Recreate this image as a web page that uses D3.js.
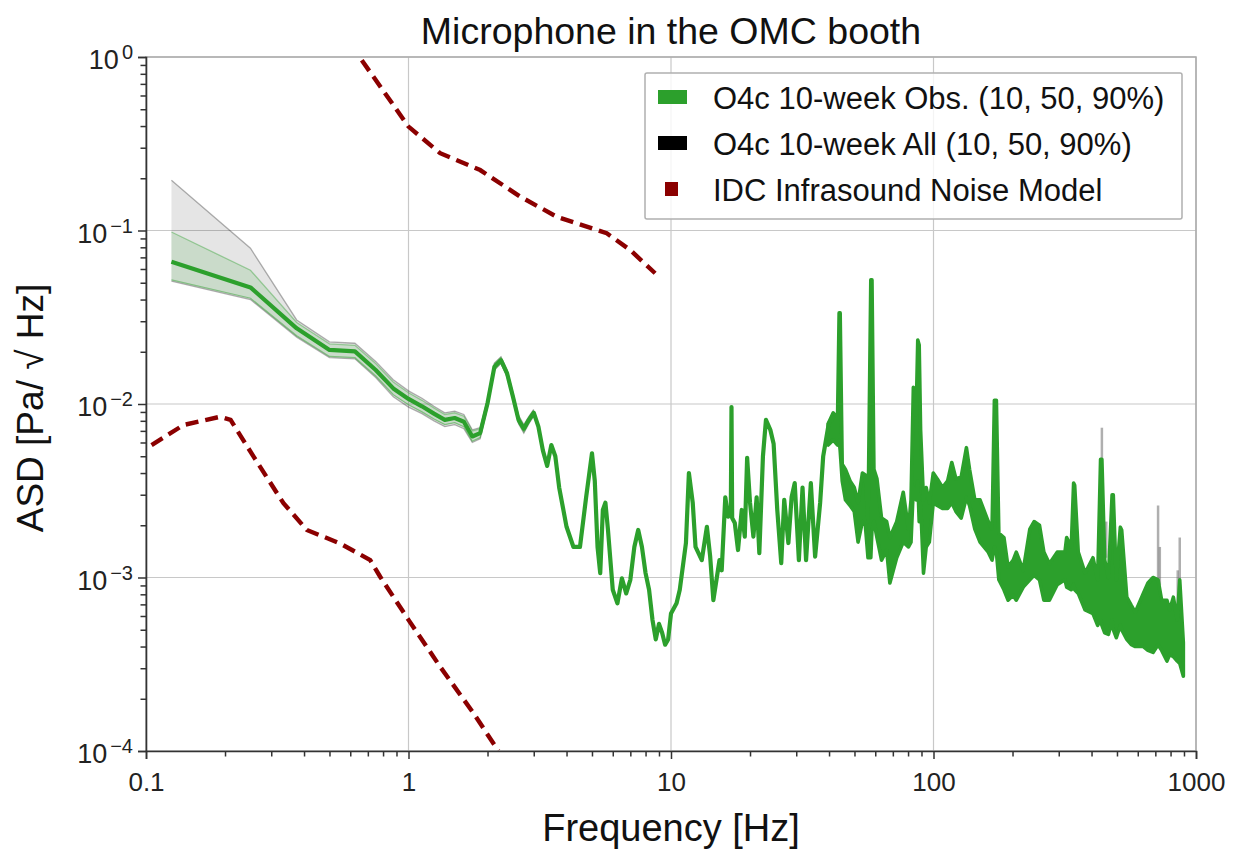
<!DOCTYPE html>
<html>
<head>
<meta charset="utf-8">
<script src="https://cdn.jsdelivr.net/npm/d3@7/dist/d3.min.js"></script>
<style>
  body { margin: 0; background: #fff; }
  svg { display: block; font-family: "Liberation Sans", Arial, Helvetica, sans-serif; }
</style>
</head>
<body>
<svg id="chart" width="1242" height="857"></svg>
<script>
// median ASD of the observing-time data (Hz, Pa/rtHz)
const freq = [0.125, 0.25, 0.375, 0.5, 0.625, 0.75, 0.875, 1.0, 1.125, 1.25, 1.375, 1.5, 1.625, 1.75, 1.875,
  2.0, 2.125, 2.25, 2.375, 2.5, 2.625, 2.75, 2.875, 3.0, 3.125, 3.25, 3.375, 3.5, 3.625, 3.75,
  4.0, 4.25, 4.5, 4.75, 5.0, 5.125, 5.25, 5.375, 5.5, 5.625, 5.75, 6.0, 6.25, 6.5, 6.75, 7.0,
  7.25, 7.5, 7.75, 8.0, 8.25, 8.5, 8.75, 9.0, 9.25, 9.5, 9.75, 10.0, 10.5, 10.8, 11.4, 11.7,
  12.1, 12.4, 13.1, 13.7, 14.1, 14.5, 15.3, 15.6, 16.1, 16.5, 16.9, 17.0, 17.1, 17.5, 18.0,
  18.6, 19.1, 19.5, 20.0, 20.6, 21.2, 21.7, 22.4, 23.0, 23.9, 24.6, 25.4, 26.3, 27.0, 28.0,
  28.8, 29.6, 30.7, 31.7, 32.7, 34.1, 35.4, 37.0, 38.0, 39.9, 41.7];
const obsMedian = [0.066, 0.047, 0.0273, 0.0205, 0.0201, 0.0157, 0.0123, 0.0107, 0.0097, 0.0088, 0.0081, 0.0083, 0.0079, 0.0065, 0.0068,
  0.0101, 0.0164, 0.0179, 0.015, 0.011, 0.0081, 0.0072, 0.0081, 0.0089, 0.0074, 0.0054, 0.0044, 0.0058, 0.005, 0.0033,
  0.00196, 0.0015, 0.0015, 0.0029, 0.0052, 0.0036, 0.0015, 0.00106, 0.00245, 0.0027, 0.0019, 0.00085, 0.00071, 0.00099, 0.00081, 0.00097,
  0.0015, 0.00188, 0.0015, 0.00106, 0.00085, 0.00057, 0.00044, 0.00054, 0.00048, 0.00041, 0.00044, 0.00062, 0.00071, 0.00085, 0.00158, 0.004,
  0.0027, 0.0015, 0.00126, 0.00196, 0.00132, 0.00074, 0.00126, 0.0011, 0.0029, 0.00224, 0.0024, 0.0096, 0.0022, 0.00206, 0.00144,
  0.00245, 0.00172, 0.0049, 0.0027, 0.00172, 0.0029, 0.00138, 0.005, 0.0081, 0.0071, 0.0059, 0.00245, 0.00121, 0.0028, 0.00158,
  0.0029, 0.0035, 0.00126, 0.0033, 0.00126, 0.0035, 0.00132, 0.0027, 0.005, 0.0077, 0.0085];

// 10 / 90 % bands at low frequency
const bandFreq = [0.125, 0.25, 0.375, 0.5, 0.625, 0.75, 0.875, 1.0, 1.125, 1.25, 1.375, 1.5, 1.625, 1.75, 1.875,
  2.0, 2.125, 2.25, 2.375, 2.5, 2.625, 2.75, 2.875, 3.0];
const obsP10 = [0.052, 0.0407, 0.0247, 0.0188, 0.0185, 0.0145, 0.0113, 0.0099, 0.009, 0.0082, 0.0076, 0.0078, 0.0074, 0.0061, 0.0064,
  0.0097, 0.0158, 0.0172, 0.0144, 0.0106, 0.0078, 0.0069, 0.0078, 0.0086];
const obsP90 = [0.098, 0.059, 0.0295, 0.0222, 0.0218, 0.0171, 0.0134, 0.0116, 0.0105, 0.0095, 0.0087, 0.0089, 0.0085, 0.007, 0.0072,
  0.0106, 0.0171, 0.0186, 0.0156, 0.0115, 0.0085, 0.0075, 0.0084, 0.0092];
const allP10 = [0.051, 0.040, 0.0243, 0.0185, 0.0182, 0.0142, 0.011, 0.0096, 0.0088, 0.008, 0.0074, 0.0076, 0.0072, 0.006, 0.0063,
  0.0096, 0.0157, 0.0171, 0.0143, 0.0105, 0.0077, 0.0068, 0.0077, 0.0085];
const allP90 = [0.195, 0.079, 0.0305, 0.0228, 0.0224, 0.0176, 0.0138, 0.0119, 0.0108, 0.0097, 0.0089, 0.0091, 0.0087, 0.0071, 0.0073,
  0.0107, 0.0172, 0.0187, 0.0157, 0.0116, 0.0086, 0.0076, 0.0085, 0.0093];

// above ~40 Hz the trace is dense: min / max envelope of it
const envFreq = [39.7, 41.5, 43.1, 43.7, 44.1, 44.9, 46.2, 48.1, 49.9, 51.6, 53.6, 55.0, 56.3, 57.7, 58.3, 59.3, 60.9,
  63.4, 66.3, 68.2, 72.4, 76.7, 80.3, 82.1, 83.8, 85.9, 87.1, 88.2, 89.3, 91.6, 93.8, 96.4, 99.8, 103.4, 108.2,
  113.2, 117.4, 121.8, 127.5, 133.5, 137.2, 143.7, 150.4, 161.7, 167.1, 170.6, 173.6, 177.4, 185.5, 192.3, 201.2,
  206.7, 219.7, 232.8, 241.7, 253.4, 263.3, 276.4, 295.9, 316.7, 321.6, 334.8, 341.8, 345, 356, 378, 405, 422,
  433, 438, 449, 464, 479, 484, 497, 515, 521, 545, 567, 587, 630, 656, 686, 717, 740, 775, 794, 820, 848, 867, 895];
const envLow = [0.0058, 0.0062, 0.0058, 0.0062, 0.0054, 0.0036, 0.0028, 0.0026, 0.0024, 0.0016, 0.0021, 0.002, 0.0013, 0.0013, 0.0019, 0.0021, 0.0017,
  0.00126, 0.00144, 0.00093, 0.0013, 0.0016, 0.0015, 0.0016, 0.0033, 0.0028, 0.0036, 0.0021, 0.0027, 0.00106, 0.0015, 0.0016, 0.0027, 0.0026, 0.0025,
  0.0025, 0.0027, 0.0024, 0.0022, 0.0029, 0.0026, 0.0019, 0.0016, 0.0014, 0.00126, 0.0015, 0.0014, 0.00097, 0.00085, 0.00074, 0.00079,
  0.00074, 0.00088, 0.00097, 0.00103, 0.00097, 0.00074, 0.00074, 0.00091, 0.00097, 0.00088, 0.00085, 0.00091, 0.00085, 0.00081, 0.00065, 0.00062, 0.00053,
  0.00057, 0.00053, 0.00048, 0.00047, 0.00057, 0.0005, 0.00045, 0.00053, 0.0005, 0.00044, 0.00041, 0.0004, 0.0004, 0.00038, 0.00037, 0.00041, 0.00038, 0.00033, 0.00036, 0.00035, 0.00033, 0.00032, 0.00027];
const envHigh = [0.0077, 0.0089, 0.0083, 0.0335, 0.0335, 0.0045, 0.0042, 0.0036, 0.0033, 0.0027, 0.004, 0.0039, 0.0021, 0.0519, 0.0519, 0.0042, 0.0037,
  0.0022, 0.0021, 0.0017, 0.0021, 0.0031, 0.0019, 0.0028, 0.0125, 0.0087, 0.0234, 0.0219, 0.0071, 0.0028, 0.0033, 0.0027, 0.004, 0.0037, 0.0033,
  0.0036, 0.0046, 0.0037, 0.0038, 0.0056, 0.0042, 0.0028, 0.0028, 0.0021, 0.0019, 0.0105, 0.0105, 0.0018, 0.0017, 0.00115, 0.00126,
  0.0014, 0.0011, 0.0019, 0.0021, 0.002, 0.0014, 0.0012, 0.0014, 0.0014, 0.0017, 0.0015, 0.0035, 0.0034, 0.0014, 0.00106, 0.0013, 0.00097,
  0.0048, 0.0048, 0.00126, 0.001, 0.003, 0.003, 0.00097, 0.00195, 0.00188, 0.00077, 0.00069, 0.00063, 0.00081, 0.00093, 0.001, 0.00097, 0.00074, 0.00074, 0.00065, 0.00077, 0.00057, 0.00097, 0.00042];

// places where the all-data 90% rises above the observing-time trace
const allSpikeFreq = [438, 455, 717, 728, 852, 867];
const allSpikeBase = [0.0048, 0.0013, 0.00097, 0.0009, 0.0006, 0.00097];
const allSpikeTop = [0.0073, 0.0021, 0.0026, 0.0015, 0.0011, 0.0017];

// IDC infrasound noise model
const idcHighFreq = [0.6, 1.0, 1.32, 1.875, 2.66, 3.67, 5.69, 6.99, 8.7];
const idcHigh = [1.19, 0.397, 0.279, 0.223, 0.157, 0.120, 0.0964, 0.0772, 0.0567];
const idcLowFreq = [0.105, 0.139, 0.192, 0.21, 0.257, 0.334, 0.41, 0.549, 0.715, 0.78, 1.0, 1.32, 1.77, 2.2];
const idcLow = [0.0058, 0.00757, 0.00845, 0.0081, 0.00497, 0.00268, 0.00188, 0.00157, 0.00126, 0.00101, 0.00057, 0.000306, 0.000165, 0.0001];

const xTicks = [0.1, 1, 10, 100, 1000];
const xTickLabels = ["0.1", "1", "10", "100", "1000"];
const yTicks = [1e-4, 1e-3, 1e-2, 1e-1, 1];
const yTickExp = ["\u22124", "\u22123", "\u22122", "\u22121", "0"];
const legendLabels = ["O4c 10-week Obs. (10, 50, 90%)", "O4c 10-week All (10, 50, 90%)", "IDC Infrasound Noise Model"];
const legendColors = ["#2ca02c", "#000000", "#8b0000"];

const green = "#2ca02c";
const svg = d3.select("#chart");
const x = d3.scaleLog().domain([0.1, 1000]).range([146, 1196]);
const y = d3.scaleLog().domain([1e-4, 1]).range([751, 57]);
const [x0, x1] = x.range();
const [y1, y0] = y.range();

svg.append("defs").append("clipPath").attr("id", "plot")
  .append("rect").attr("x", x0).attr("y", y0).attr("width", x1 - x0).attr("height", y1 - y0);

// grid
const grid = svg.append("g").attr("stroke", "#c8c8c8").attr("stroke-width", 1.2);
grid.selectAll(".gx").data(xTicks).join("line")
  .attr("x1", d => x(d)).attr("x2", d => x(d)).attr("y1", y0).attr("y2", y1);
grid.selectAll(".gy").data(yTicks).join("line")
  .attr("y1", d => y(d)).attr("y2", d => y(d)).attr("x1", x0).attr("x2", x1);

const plot = svg.append("g").attr("clip-path", "url(#plot)");

const bands = bandFreq.map((f, i) => ({ f, p10: obsP10[i], p90: obsP90[i], a10: allP10[i], a90: allP90[i] }));
const area = (lo, hi) => d3.area().x(d => x(d.f)).y0(d => y(d[lo])).y1(d => y(d[hi]));
const edge = key => d3.line().x(d => x(d.f)).y(d => y(d[key]));

plot.append("path").datum(bands).attr("d", area("a10", "a90")).attr("fill", "rgba(0,0,0,0.1)");
plot.append("path").datum(bands).attr("d", edge("a90")).attr("fill", "none").attr("stroke", "rgba(0,0,0,0.3)").attr("stroke-width", 1.3);
plot.append("path").datum(bands).attr("d", edge("a10")).attr("fill", "none").attr("stroke", "rgba(0,0,0,0.3)").attr("stroke-width", 1.3);
plot.append("path").datum(bands).attr("d", area("p10", "p90")).attr("fill", "rgba(44,160,44,0.15)");
plot.append("path").datum(bands).attr("d", edge("p90")).attr("fill", "none").attr("stroke", "rgba(44,160,44,0.4)").attr("stroke-width", 1.3);
plot.append("path").datum(bands).attr("d", edge("p10")).attr("fill", "none").attr("stroke", "rgba(44,160,44,0.5)").attr("stroke-width", 1.3);

// grey excursions of the all-data set
plot.selectAll(".spike").data(allSpikeFreq).join("line")
  .attr("x1", d => x(d)).attr("x2", d => x(d))
  .attr("y1", (d, i) => y(allSpikeBase[i])).attr("y2", (d, i) => y(allSpikeTop[i]))
  .attr("stroke", "rgba(110,110,110,0.55)").attr("stroke-width", 2.5);

// dense part as filled envelope
const env = envFreq.map((f, i) => ({ f, lo: envLow[i], hi: envHigh[i] }));
plot.append("path").datum(env).attr("d", area("lo", "hi"))
  .attr("fill", green).attr("stroke", green).attr("stroke-width", 3.6).attr("stroke-linejoin", "round");

// median
const med = freq.map((f, i) => ({ f, v: obsMedian[i] }));
plot.append("path").datum(med).attr("d", edge("v"))
  .attr("fill", "none").attr("stroke", green).attr("stroke-width", 4.2).attr("stroke-linejoin", "round");

// IDC model
const idcLine = d3.line().x(d => x(d[0])).y(d => y(d[1]));
[[idcHighFreq, idcHigh], [idcLowFreq, idcLow]].forEach(([fs, vs]) => {
  plot.append("path").datum(d3.zip(fs, vs)).attr("d", idcLine)
    .attr("fill", "none").attr("stroke", "#8b0000").attr("stroke-width", 4.4)
    .attr("stroke-dasharray", "13,7");
});

// frame
svg.append("rect").attr("x", x0).attr("y", y0).attr("width", x1 - x0).attr("height", y1 - y0)
  .attr("fill", "none").attr("stroke", "#aaaaaa").attr("stroke-width", 1.5);

// axes
const minorX = x.ticks().filter(d => !xTicks.includes(d));
const minorY = y.ticks().filter(d => !yTicks.some(t => Math.abs(t - d) / t < 1e-6));

const gx = svg.append("g").attr("transform", `translate(0,${y1})`);
gx.call(d3.axisBottom(x).tickValues(minorX).tickSize(5.5).tickFormat(""));
gx.call(g => g.select(".domain").remove());
const gx2 = svg.append("g").attr("transform", `translate(0,${y1})`)
  .call(d3.axisBottom(x).tickValues(xTicks).tickSize(8).tickPadding(14).tickFormat((d, i) => xTickLabels[i]));
gx2.select(".domain").attr("stroke", "#333").attr("stroke-width", 1.6);
gx2.selectAll("text").attr("font-size", 26).attr("fill", "#222").attr("font-family", "Liberation Sans, Arial, sans-serif");

const gy = svg.append("g").attr("transform", `translate(${x0},0)`);
gy.call(d3.axisLeft(y).tickValues(minorY).tickSize(5.5).tickFormat(""));
gy.call(g => g.select(".domain").remove());
const gy2 = svg.append("g").attr("transform", `translate(${x0},0)`)
  .call(d3.axisLeft(y).tickValues(yTicks).tickSize(8).tickFormat(""));
gy2.select(".domain").attr("stroke", "#333").attr("stroke-width", 1.6);
svg.selectAll(".tick line").attr("stroke", "#333").attr("stroke-width", 1.5);

const ylab = svg.append("g").attr("fill", "#222");
yTicks.forEach((t, i) => {
  const tx = ylab.append("text").attr("x", 133).attr("y", y(t) + 12).attr("text-anchor", "end");
  tx.append("tspan").attr("font-size", 27).text("10");
  tx.append("tspan").attr("font-size", 20).attr("dx", 3).attr("dy", -10).text(yTickExp[i]);
});

// titles
svg.append("text").attr("x", (x0 + x1) / 2).attr("y", 44).attr("text-anchor", "middle")
  .attr("font-size", 37.5).attr("fill", "#111").text("Microphone in the OMC booth");
svg.append("text").attr("x", (x0 + x1) / 2).attr("y", 841).attr("text-anchor", "middle")
  .attr("font-size", 38).attr("fill", "#111").text("Frequency [Hz]");
svg.append("text").attr("transform", `translate(43,${(y0 + y1) / 2 + 4}) rotate(-90)`).attr("text-anchor", "middle")
  .attr("font-size", 37).attr("fill", "#111").text("ASD [Pa/ \u221A Hz]");

// legend
const lg = svg.append("g");
lg.append("rect").attr("x", 645).attr("y", 73).attr("width", 537).attr("height", 146)
  .attr("fill", "rgba(255,255,255,0.8)").attr("stroke", "#b0b0b0").attr("stroke-width", 1.5).attr("rx", 2);
legendLabels.forEach((label, i) => {
  const cy = 97 + i * 46;
  if (i < 2) {
    lg.append("rect").attr("x", 658).attr("y", cy - 7).attr("width", 29).attr("height", 14).attr("fill", legendColors[i]);
  } else {
    lg.append("rect").attr("x", 665).attr("y", cy - 7).attr("width", 13).attr("height", 14).attr("fill", legendColors[i]);
  }
  lg.append("text").attr("x", 713).attr("y", cy + 12).attr("font-size", 31).attr("fill", "#111").text(label);
});
</script>
</body>
</html>
